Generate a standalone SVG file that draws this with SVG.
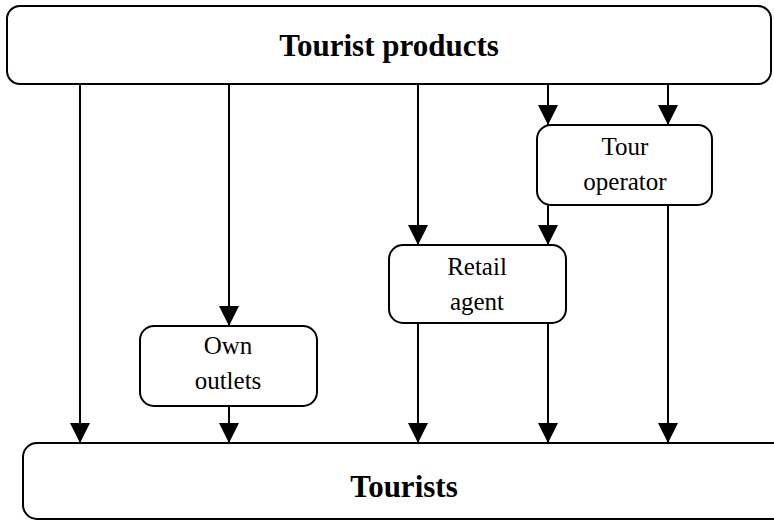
<svg xmlns="http://www.w3.org/2000/svg" width="774" height="521" viewBox="0 0 774 521">
<style>
.box{fill:#fff;stroke:#000;stroke-width:2}
.t{font-family:"Liberation Serif","Times New Roman",serif;font-size:25px;text-anchor:middle;fill:#000}
.b{font-family:"Liberation Serif","Times New Roman",serif;font-size:31px;font-weight:bold;text-anchor:middle;fill:#000}
.c{stroke:#000;stroke-width:2;fill:none;marker-end:url(#ah)}
</style>
<defs>
<marker id="ah" viewBox="0 0 20 20" markerWidth="20" markerHeight="20" refX="20" refY="10" orient="auto" markerUnits="userSpaceOnUse">
<path d="M0,0 L20,10 L0,20 z" fill="#000"/>
</marker>
</defs>
<g id="connectors">
<line class="c" x1="80" y1="84" x2="80" y2="443"/>
<line class="c" x1="229" y1="84" x2="229" y2="326"/>
<line class="c" x1="229" y1="406" x2="229" y2="443"/>
<line class="c" x1="418" y1="84" x2="418" y2="245"/>
<line class="c" x1="548" y1="84" x2="548" y2="125"/>
<line class="c" x1="668" y1="84" x2="668" y2="125"/>
<line class="c" x1="548" y1="205" x2="548" y2="245"/>
<line class="c" x1="418" y1="323" x2="418" y2="443"/>
<line class="c" x1="548" y1="323" x2="548" y2="443"/>
<line class="c" x1="668" y1="205" x2="668" y2="443"/>
</g>
<g id="tourist-products">
<rect class="box" x="7" y="6" width="764" height="78" rx="13"/>
<text class="b" x="389" y="56">Tourist products</text>
</g>
<g id="tour-operator">
<rect class="box" x="537" y="125" width="175" height="80" rx="14"/>
<text class="t" x="625" y="155">Tour</text>
<text class="t" x="625" y="190">operator</text>
</g>
<g id="retail-agent">
<rect class="box" x="389" y="245" width="177" height="78" rx="14"/>
<text class="t" x="477" y="275">Retail</text>
<text class="t" x="477" y="310">agent</text>
</g>
<g id="own-outlets">
<rect class="box" x="140" y="326" width="177" height="80" rx="14"/>
<text class="t" x="228" y="354">Own</text>
<text class="t" x="228" y="389">outlets</text>
</g>
<g id="tourists">
<rect class="box" x="23" y="443" width="780" height="76" rx="14"/>
<text class="b" x="404" y="497">Tourists</text>
</g>
</svg>
